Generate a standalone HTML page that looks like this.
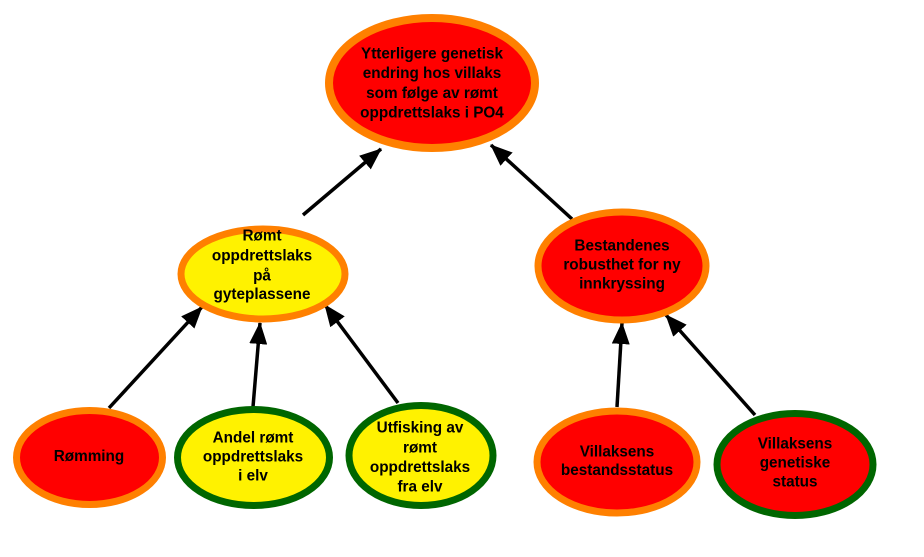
<!DOCTYPE html>
<html><head><meta charset="utf-8"><style>
html,body{margin:0;padding:0;background:#fff;}
svg{display:block;}
text{font-family:"Liberation Sans",Arial,sans-serif;font-weight:bold;font-size:15.3px;fill:#000;text-anchor:middle;}
</style></head><body>
<svg width="924" height="557" viewBox="0 0 924 557" xmlns="http://www.w3.org/2000/svg">
<defs>
<marker id="ah" markerWidth="22" markerHeight="18" refX="21" refY="9" orient="auto" markerUnits="userSpaceOnUse">
<path d="M0,0 L22,9 L0,18 Z" fill="#000"/>
</marker>
</defs>
<!-- connectors -->
<g stroke="#000" stroke-width="3.5" fill="none">
<line x1="303" y1="215" x2="381" y2="149" marker-end="url(#ah)"/>
<line x1="572" y1="219" x2="491" y2="145" marker-end="url(#ah)"/>
<line x1="109" y1="408" x2="202" y2="307" marker-end="url(#ah)"/>
<line x1="253" y1="407" x2="260" y2="323" marker-end="url(#ah)"/>
<line x1="398" y1="403" x2="325" y2="305" marker-end="url(#ah)"/>
<line x1="617" y1="407" x2="622" y2="323" marker-end="url(#ah)"/>
<line x1="755" y1="415" x2="666" y2="315" marker-end="url(#ah)"/>
</g>
<!-- nodes -->
<ellipse cx="432" cy="83" rx="103" ry="65" fill="#ff0000" stroke="#ff8000" stroke-width="8"/>
<ellipse cx="263" cy="274" rx="82" ry="45" fill="#fff200" stroke="#ff8000" stroke-width="7"/>
<ellipse cx="622" cy="266" rx="84" ry="54" fill="#ff0000" stroke="#ff8000" stroke-width="7"/>
<ellipse cx="89.5" cy="457.5" rx="73" ry="47" fill="#ff0000" stroke="#ff8000" stroke-width="7"/>
<ellipse cx="253.5" cy="457.5" rx="76" ry="48" fill="#fff200" stroke="#006600" stroke-width="7"/>
<ellipse cx="421" cy="455.5" rx="72" ry="50" fill="#fff200" stroke="#006600" stroke-width="7"/>
<ellipse cx="617" cy="462" rx="80" ry="51" fill="#ff0000" stroke="#ff8000" stroke-width="7"/>
<ellipse cx="795" cy="464.5" rx="78" ry="51" fill="#ff0000" stroke="#006600" stroke-width="7"/>
<!-- labels -->
<text x="432" y="58.5">Ytterligere genetisk</text>
<text x="432" y="78">endring hos villaks</text>
<text x="432" y="98">som følge av rømt</text>
<text x="432" y="117.5">oppdrettslaks i PO4</text>

<text x="262" y="240.5">Rømt</text>
<text x="262" y="260.5">oppdrettslaks</text>
<text x="262" y="280.5">på</text>
<text x="262" y="299">gyteplassene</text>

<text x="622" y="250.5">Bestandenes</text>
<text x="622" y="269.5">robusthet for ny</text>
<text x="622" y="288.5">innkryssing</text>

<text x="89" y="461">Rømming</text>

<text x="253" y="442.5">Andel rømt</text>
<text x="253" y="461.5">oppdrettslaks</text>
<text x="253" y="480.5">i elv</text>

<text x="420" y="432.5">Utfisking av</text>
<text x="420" y="452.5">rømt</text>
<text x="420" y="472">oppdrettslaks</text>
<text x="420" y="491.5">fra elv</text>

<text x="617" y="456.5">Villaksens</text>
<text x="617" y="475">bestandsstatus</text>

<text x="795" y="448.5">Villaksens</text>
<text x="795" y="467.5">genetiske</text>
<text x="795" y="486.5">status</text>
</svg>
</body></html>
